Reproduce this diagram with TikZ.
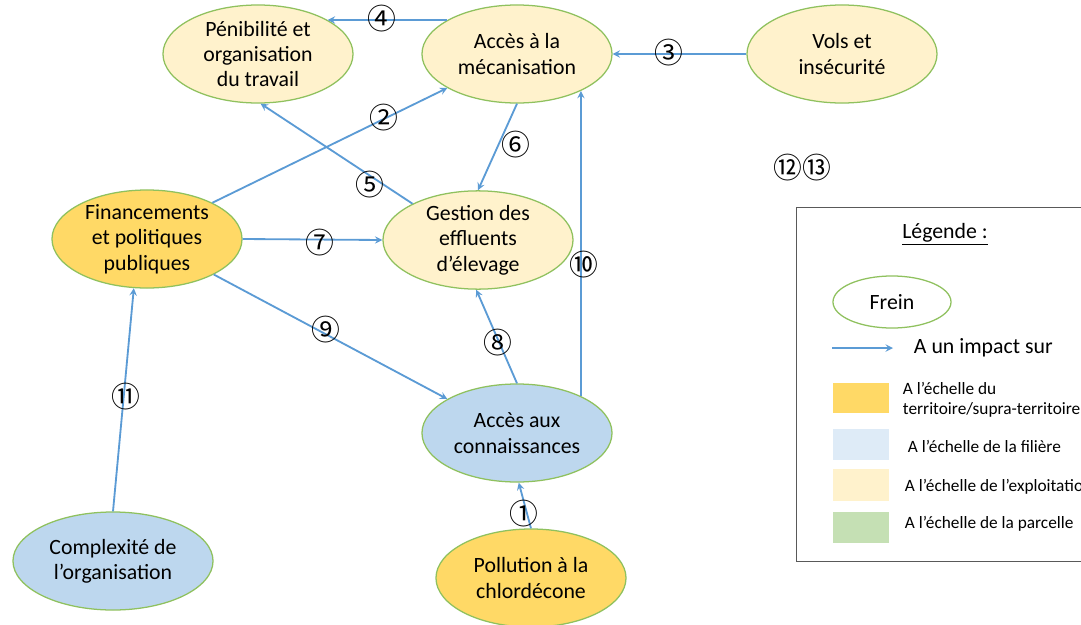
\documentclass[tikz,border=0pt]{standalone}
\usepackage{fontspec}
\setmainfont{Carlito}
\newfontfamily\numfont{Noto Sans CJK SC}
\usetikzlibrary{shapes.geometric}

\definecolor{contour}{HTML}{8FC15E}
\definecolor{fleche}{HTML}{5B9BD5}
\definecolor{territoire}{HTML}{FFD966}
\definecolor{filiere}{HTML}{BDD7EE}
\definecolor{filierelegende}{HTML}{DEEBF7}
\definecolor{exploitation}{HTML}{FFF2CC}
\definecolor{parcelle}{HTML}{C5E0B4}

\tikzset{
    frein/.style={ellipse, draw=contour, line width=0.9pt, minimum width=4.75cm, minimum height=2.45cm, inner sep=0pt, align=center, font=\fontsize{15.5}{18}\selectfont},
    impact/.style={->, >=stealth, draw=fleche, line width=1.3pt},
    numero/.style={font=\numfont\fontsize{20.5}{20.5}\selectfont, inner sep=0pt},
    legende/.style={anchor=west, align=left, font=\fontsize{12.3}{14.2}\selectfont}
}

\begin{document}
\begin{tikzpicture}[x=0.025cm, y=-0.025cm]
        \clip (0,0) rectangle (1081,625);
        \fill[white] (0,0) rectangle (1081,625);

        % Les freins
        \node[frein, fill=exploitation] (pen) at (258,54) {P\'enibilit\'e et\\organisation\\du travail};
        \node[frein, fill=exploitation] (meca) at (517,54) {Acc\`es \`a la\\m\'ecanisation};
        \node[frein, fill=exploitation] (vols) at (842,54) {Vols et\\ins\'ecurit\'e};
        \node[frein, fill=territoire] (fin) at (147,239) {Financements\\et politiques\\publiques};
        \node[frein, fill=exploitation] (ges) at (478,240) {Gestion des\\effluents\\d'\'elevage};
        \node[frein, fill=filiere] (con) at (517,433) {Acc\`es aux\\connaissances};
        \node[frein, fill=filiere, minimum width=5cm] (comp) at (113,561) {Complexit\'e de\\l'organisation};
        \node[frein, fill=territoire] (pol) at (531,578) {Pollution \`a la\\chlord\'econe};

        % Les impacts
        \draw[impact] (pol.north) -- (con.272);
        \draw[impact] (fin.29) -- (meca.206);
        \draw[impact] (vols.west) -- (meca.east);
        \draw[impact] (meca.154) -- (pen.26);
        \draw[impact] (ges.151) -- (pen.273);
        \draw[impact] (meca.south) -- (ges.north);
        \draw[impact] (fin.east) -- (ges.west);
        \draw[impact] (con.north) -- (ges.268);
        \draw[impact] (fin.332) -- (con.154);
        \draw[impact] (con.30) -- (meca.330);
        \draw[impact] (comp.north) -- (fin.255);

        % Les numeros
        \node[numero] (n1) at (524,514) {①};
        \node[numero] (n2) at (384,118) {②};
        \node[numero] (n3) at (669,53) {③};
        \node[numero] (n4) at (382,19) {④};
        \node[numero] (n5) at (370,185) {⑤};
        \node[numero] (n6) at (516,145) {⑥};
        \node[numero] (n7) at (320,243) {⑦};
        \node[numero] (n8) at (498,343) {⑧};
        \node[numero] (n9) at (326,330) {⑨};
        \node[numero] (n10) at (584,265) {⑩};
        \node[numero] (n11) at (126,397) {⑪};
        \node[numero] (n12) at (788,168) {⑫};
        \node[numero] (n13) at (817,168) {⑬};

        % Legende
        \draw[gray!70!black, line width=0.6pt] (796,207) rectangle (1100,561);
        \node[font=\fontsize{15.5}{18}\selectfont] (titre) at (945,234) {\underline{L\'egende :}};
        \node[frein, minimum width=2.95cm, minimum height=1.3cm] (exfrein) at (892,302) {Frein};
        \coordinate (exdebut) at (832,348);
        \coordinate (exfin) at (893,348);
        \draw[impact] (exdebut) -- (exfin);
        \node[anchor=west, font=\fontsize{15.5}{18}\selectfont] (eximpact) at (909,348) {A un impact sur};
        \fill[territoire] (833,383) rectangle (889,413);
        \fill[filierelegende] (833,429) rectangle (889,460);
        \fill[exploitation] (833,469) rectangle (889,501);
        \fill[parcelle] (833,512) rectangle (889,543);
        \node[legende] (l1) at (898,400) {A l'\'echelle du\\territoire/supra-territoire};
        \node[legende] (l2) at (903,446) {A l'\'echelle de la fili\`ere};
        \node[legende] (l3) at (900,487) {A l'\'echelle de l'exploitation};
        \node[legende] (l4) at (900,524) {A l'\'echelle de la parcelle};
\end{tikzpicture}
\end{document}
